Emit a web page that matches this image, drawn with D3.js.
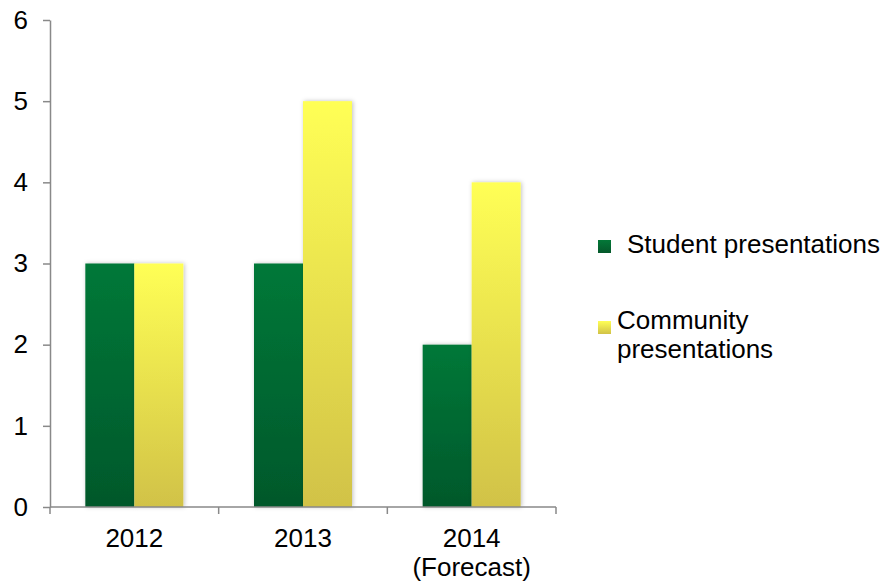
<!DOCTYPE html>
<html>
<head>
<meta charset="utf-8">
<script src="https://cdn.jsdelivr.net/npm/d3@7"></script>
<style>
  body { margin: 0; background: #fff; }
  text { font-family: "Liberation Sans", Arial, sans-serif; fill: #000; }
</style>
</head>
<body>
<div id="chart"></div>
<script>
var categories = ["2012", "2013", "2014\n(Forecast)"];
var seriesNames = ["Student presentations", "Community presentations"];
var student = [3, 3, 2];
var community = [3, 5, 4];
var yTicks = [0, 1, 2, 3, 4, 5, 6];

var W = 892, H = 584;
var margin = {top: 20, left: 50};
var plotW = 506, plotH = 487;
var fs = "26px";

var svg = d3.select("#chart").append("svg")
    .attr("width", W)
    .attr("height", H);

var defs = svg.append("defs");

function grad(id, top, bottom) {
    var g = defs.append("linearGradient")
        .attr("id", id)
        .attr("x1", 0).attr("y1", 0)
        .attr("x2", 0).attr("y2", 1);
    g.append("stop").attr("offset", "0%").attr("stop-color", top);
    g.append("stop").attr("offset", "100%").attr("stop-color", bottom);
}
grad("g-green", "#037838", "#05582b");
grad("g-yellow", "#ffff55", "#d1c247");

var shadow = defs.append("filter").attr("id", "shadow")
    .attr("x", "-20%").attr("y", "-5%").attr("width", "140%").attr("height", "110%");
shadow.append("feDropShadow")
    .attr("dx", 1).attr("dy", 0).attr("stdDeviation", 2)
    .attr("flood-color", "#000").attr("flood-opacity", 0.25);

var x = d3.scaleBand().domain(d3.range(categories.length)).range([0, plotW]);
var y = d3.scaleLinear().domain([0, 6]).range([plotH, 0]);

var fills = ["url(#g-green)", "url(#g-yellow)"];
var barW = 49;

var g = svg.append("g").attr("transform", "translate(" + margin.left + "," + margin.top + ")");

var series = [student, community];
series.forEach(function (vals, s) {
    g.selectAll(".bar" + s)
        .data(vals)
        .enter().append("rect")
        .attr("class", "bar" + s)
        .attr("x", function (d, i) { return x(i) + x.bandwidth() / 2 - barW + s * barW; })
        .attr("y", function (d) { return y(d); })
        .attr("width", barW)
        .attr("height", function (d) { return plotH - y(d); })
        .attr("fill", fills[s])
        .attr("filter", "url(#shadow)");
});

// y axis
var yAxis = g.append("g").call(d3.axisLeft(y).tickValues(yTicks).tickSize(7).tickSizeOuter(0).tickFormat(d3.format("d")).tickPadding(15));
yAxis.select(".domain").attr("stroke", "#898989").attr("stroke-width", 1.5);
yAxis.selectAll(".tick line").attr("stroke", "#898989").attr("stroke-width", 1.5);
yAxis.selectAll(".tick text").style("font-size", fs).style("font-family", "Liberation Sans, Arial, sans-serif").attr("fill", "#000");

// x axis
var xa = g.append("g").attr("transform", "translate(0," + plotH + ")");
xa.append("line").attr("x1", 0).attr("x2", plotW).attr("y1", 0).attr("y2", 0)
    .attr("stroke", "#898989").attr("stroke-width", 1.5);
xa.selectAll(".xt")
    .data(d3.range(categories.length + 1))
    .enter().append("line")
    .attr("x1", function (i) { return i * x.step(); })
    .attr("x2", function (i) { return i * x.step(); })
    .attr("y1", 0).attr("y2", 7)
    .attr("stroke", "#898989").attr("stroke-width", 1.5);

categories.forEach(function (c, i) {
    var t = xa.append("text")
        .attr("x", x(i) + x.bandwidth() / 2)
        .attr("y", 40)
        .attr("text-anchor", "middle")
        .style("font-size", fs);
    c.split("\n").forEach(function (line, k) {
        t.append("tspan").attr("x", x(i) + x.bandwidth() / 2).attr("dy", k ? 29 : 0).text(line);
    });
});

// legend
var leg = svg.append("g");
leg.append("rect").attr("x", 598).attr("y", 240).attr("width", 13).attr("height", 13).attr("fill", "url(#g-green)");
leg.append("text").attr("x", 627).attr("y", 253).style("font-size", fs).text(seriesNames[0]);
leg.append("rect").attr("x", 598).attr("y", 321).attr("width", 13).attr("height", 13).attr("fill", "url(#g-yellow)");
leg.append("text").attr("x", 617).attr("y", 329).style("font-size", fs).text("Community");
leg.append("text").attr("x", 617).attr("y", 358).style("font-size", fs).text("presentations");
</script>
</body>
</html>
